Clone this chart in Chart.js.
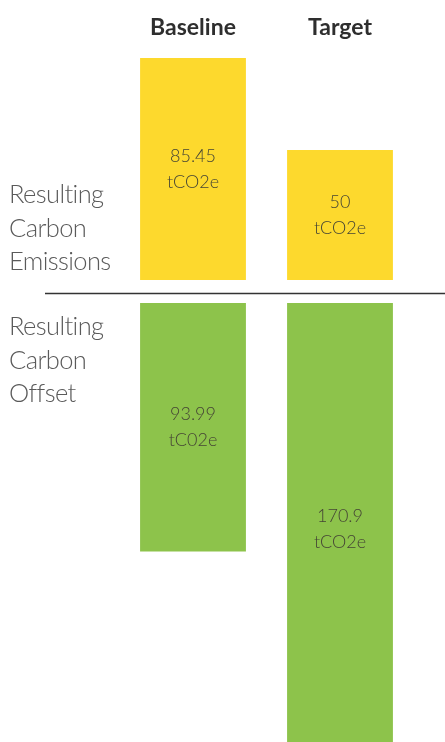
<!DOCTYPE html>
<html>
<head>
<meta charset="utf-8">
<script src="https://cdn.jsdelivr.net/npm/chart.js@4"></script>
<style>
  html, body { margin: 0; padding: 0; background: #ffffff; }
  body { width: 445px; height: 742px; position: relative; overflow: hidden; font-family: Lato, "Open Sans", sans-serif; }
  #top { position: absolute; left: 0; top: 0; }
  #bottom { position: absolute; left: 0; top: 282px; }
  .rowlabel { position: absolute; left: 9px; font-size: 25.5px; line-height: 33.5px; color: #5a5a5a; font-weight: 300; letter-spacing: -0.6px; }
</style>
</head>
<body>
<canvas id="top" width="445" height="282"></canvas>
<canvas id="bottom" width="445" height="460"></canvas>
<div class="rowlabel" id="rowEm" style="top:177px"></div>
<div class="rowlabel" id="rowOff" style="top:309px"></div>
<script>
const categories = ['Baseline', 'Target'];
const emissions = [85.45, 50];
const offsets = [93.99, 170.9];
const emissionUnits = ['tCO2e', 'tCO2e'];
const offsetUnits = ['tC02e', 'tCO2e'];
const rowLabels = [['Resulting', 'Carbon', 'Emissions'], ['Resulting', 'Carbon', 'Offset']];

document.getElementById('rowEm').innerHTML = rowLabels[0].join('<br>');
document.getElementById('rowOff').innerHTML = rowLabels[1].join('<br>');

const YELLOW = '#fdd92d';
const GREEN = '#8dc34b';
const LABEL_FONT = '300 18px Lato, "Open Sans", sans-serif';

function barLabelPlugin(units) {
  return {
    id: 'barLabels',
    afterDatasetsDraw(chart) {
      const ctx = chart.ctx;
      const meta = chart.getDatasetMeta(0);
      const ys = chart.scales.y;
      const data = chart.data.datasets[0].data;
      ctx.save();
      ctx.font = LABEL_FONT;
      ctx.fillStyle = '#454535';
      ctx.textAlign = 'center';
      ctx.textBaseline = 'middle';
      meta.data.forEach((bar, i) => {
        const yc = ys.getPixelForValue(data[i] / 2);
        ctx.fillText(String(data[i]), bar.x, yc - 13);
        ctx.fillText(units[i], bar.x, yc + 13);
      });
      ctx.restore();
    }
  };
}

const dividerPlugin = {
  id: 'divider',
  afterDraw(chart) {
    const ctx = chart.ctx;
    ctx.save();
    ctx.strokeStyle = '#333333';
    ctx.lineWidth = 1.4;
    ctx.beginPath();
    ctx.moveTo(45, 11.5);
    ctx.lineTo(445, 11.5);
    ctx.stroke();
    ctx.restore();
  }
};

new Chart(document.getElementById('top'), {
  type: 'bar',
  data: {
    labels: categories,
    datasets: [{ data: emissions, backgroundColor: YELLOW, categoryPercentage: 1, barPercentage: 0.72 }]
  },
  options: {
    responsive: false,
    animation: false,
    layout: { padding: { left: 119.5, right: 31.5, top: 11, bottom: 2 } },
    plugins: { legend: { display: false }, tooltip: { enabled: false } },
    scales: {
      x: {
        position: 'top',
        grid: { display: false },
        border: { display: false },
        ticks: { color: '#2e2e2e', font: { family: 'Lato, "Open Sans", sans-serif', size: 23, weight: 'bold' }, padding: 3 }
      },
      y: { display: false, min: 0, max: 87.5 }
    }
  },
  plugins: [barLabelPlugin(emissionUnits)]
});

new Chart(document.getElementById('bottom'), {
  type: 'bar',
  data: {
    labels: categories,
    datasets: [{ data: offsets, backgroundColor: GREEN, categoryPercentage: 1, barPercentage: 0.72 }]
  },
  options: {
    responsive: false,
    animation: false,
    layout: { padding: { left: 119.5, right: 31.5, top: 21, bottom: 0 } },
    plugins: { legend: { display: false }, tooltip: { enabled: false } },
    scales: {
      x: { display: false },
      y: { display: false, reverse: true, min: 0, max: 166 }
    }
  },
  plugins: [barLabelPlugin(offsetUnits), dividerPlugin]
});
</script>
</body>
</html>
